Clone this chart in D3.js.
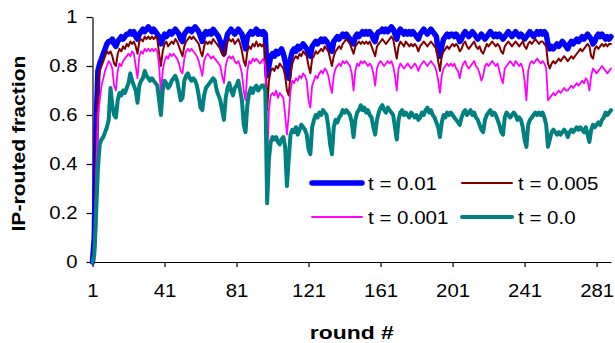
<!DOCTYPE html>
<meta charset="utf-8">

<!-- Load d3.js -->
<script src="https://d3js.org/d3.v7.min.js"></script>

<style>
  body { margin: 0; background: #fff; }
  text { font-family: Arial, "Liberation Sans", sans-serif; }
</style>

<!-- Create a div where the graph will take place -->
<div id="my_dataviz"></div>

<script>

// series values, one per round (round 1 .. 289)
var t001 = [
  0.00, 0.10, 0.55, 0.78, 0.81, 0.83, 0.85, 0.87, 0.89, 0.90,
  0.90, 0.91, 0.89, 0.88, 0.90, 0.91, 0.92, 0.91, 0.92, 0.93,
  0.93, 0.94, 0.93, 0.94, 0.92, 0.91, 0.93, 0.94, 0.95, 0.94,
  0.95, 0.96, 0.95, 0.94, 0.95, 0.94, 0.93, 0.92, 0.89, 0.91,
  0.93, 0.92, 0.93, 0.94, 0.93, 0.94, 0.95, 0.94, 0.93, 0.91,
  0.90, 0.93, 0.94, 0.95, 0.95, 0.94, 0.95, 0.96, 0.95, 0.94,
  0.92, 0.90, 0.93, 0.94, 0.93, 0.94, 0.93, 0.95, 0.94, 0.93,
  0.92, 0.90, 0.87, 0.85, 0.90, 0.93, 0.94, 0.95, 0.94, 0.93,
  0.94, 0.95, 0.94, 0.93, 0.90, 0.87, 0.92, 0.93, 0.94, 0.93,
  0.94, 0.95, 0.93, 0.94, 0.93, 0.94, 0.93, 0.76, 0.80, 0.84,
  0.85, 0.84, 0.86, 0.85, 0.86, 0.87, 0.85, 0.82, 0.78, 0.75,
  0.83, 0.86, 0.87, 0.86, 0.88, 0.87, 0.88, 0.89, 0.88, 0.87,
  0.85, 0.84, 0.88, 0.89, 0.90, 0.89, 0.90, 0.91, 0.90, 0.91,
  0.90, 0.89, 0.87, 0.86, 0.90, 0.91, 0.92, 0.91, 0.92, 0.93,
  0.92, 0.93, 0.92, 0.91, 0.90, 0.89, 0.92, 0.93, 0.92, 0.93,
  0.94, 0.93, 0.94, 0.93, 0.94, 0.93, 0.91, 0.90, 0.93, 0.94,
  0.94, 0.95, 0.94, 0.95, 0.94, 0.95, 0.96, 0.95, 0.93, 0.91,
  0.94, 0.95, 0.94, 0.93, 0.94, 0.93, 0.94, 0.93, 0.94, 0.93,
  0.92, 0.91, 0.93, 0.94, 0.95, 0.94, 0.93, 0.94, 0.95, 0.94,
  0.93, 0.92, 0.86, 0.84, 0.88, 0.91, 0.92, 0.93, 0.92, 0.93,
  0.93, 0.92, 0.93, 0.92, 0.90, 0.91, 0.93, 0.94, 0.93, 0.92,
  0.93, 0.94, 0.93, 0.92, 0.91, 0.92, 0.93, 0.92, 0.91, 0.92,
  0.93, 0.94, 0.93, 0.92, 0.93, 0.92, 0.93, 0.92, 0.91, 0.92,
  0.93, 0.94, 0.93, 0.92, 0.93, 0.94, 0.93, 0.92, 0.93, 0.92,
  0.91, 0.92, 0.93, 0.94, 0.93, 0.92, 0.93, 0.94, 0.93, 0.94,
  0.93, 0.94, 0.93, 0.89, 0.87, 0.88, 0.87, 0.88, 0.89, 0.88,
  0.89, 0.90, 0.89, 0.88, 0.87, 0.89, 0.90, 0.89, 0.90, 0.91,
  0.90, 0.91, 0.92, 0.91, 0.92, 0.93, 0.92, 0.91, 0.89, 0.90,
  0.92, 0.93, 0.92, 0.93, 0.92, 0.91, 0.92, 0.91, 0.92
];

var t0005 = [
  0.00, 0.08, 0.45, 0.72, 0.78, 0.80, 0.82, 0.84, 0.86, 0.85,
  0.86, 0.84, 0.81, 0.80, 0.85, 0.87, 0.86, 0.88, 0.87, 0.89,
  0.88, 0.90, 0.89, 0.90, 0.88, 0.85, 0.90, 0.91, 0.90, 0.92,
  0.91, 0.92, 0.91, 0.92, 0.91, 0.92, 0.91, 0.85, 0.80, 0.86,
  0.89, 0.90, 0.88, 0.89, 0.90, 0.89, 0.91, 0.90, 0.88, 0.86,
  0.84, 0.88, 0.90, 0.91, 0.92, 0.91, 0.92, 0.91, 0.90, 0.89,
  0.86, 0.84, 0.88, 0.90, 0.89, 0.90, 0.89, 0.91, 0.90, 0.89,
  0.88, 0.87, 0.85, 0.84, 0.88, 0.90, 0.91, 0.90, 0.91, 0.89,
  0.90, 0.91, 0.89, 0.86, 0.82, 0.80, 0.86, 0.88, 0.87, 0.89,
  0.88, 0.90, 0.88, 0.89, 0.88, 0.89, 0.86, 0.62, 0.74, 0.78,
  0.79, 0.78, 0.80, 0.79, 0.81, 0.80, 0.79, 0.76, 0.70, 0.68,
  0.77, 0.81, 0.83, 0.84, 0.83, 0.85, 0.84, 0.86, 0.85, 0.84,
  0.80, 0.77, 0.83, 0.84, 0.86, 0.85, 0.86, 0.87, 0.86, 0.88,
  0.87, 0.86, 0.83, 0.80, 0.84, 0.86, 0.87, 0.88, 0.87, 0.89,
  0.90, 0.91, 0.90, 0.89, 0.87, 0.85, 0.88, 0.89, 0.90, 0.89,
  0.90, 0.89, 0.90, 0.89, 0.90, 0.88, 0.86, 0.84, 0.88, 0.89,
  0.90, 0.91, 0.90, 0.89, 0.90, 0.91, 0.92, 0.91, 0.87, 0.83,
  0.88, 0.90, 0.89, 0.88, 0.90, 0.89, 0.88, 0.89, 0.88, 0.89,
  0.88, 0.86, 0.88, 0.89, 0.90, 0.89, 0.88, 0.89, 0.90, 0.89,
  0.88, 0.87, 0.82, 0.78, 0.84, 0.86, 0.87, 0.88, 0.87, 0.88,
  0.89, 0.88, 0.89, 0.88, 0.86, 0.87, 0.89, 0.90, 0.88, 0.87,
  0.88, 0.89, 0.90, 0.88, 0.87, 0.88, 0.86, 0.85, 0.87, 0.89,
  0.88, 0.89, 0.90, 0.89, 0.88, 0.89, 0.88, 0.86, 0.85, 0.88,
  0.89, 0.90, 0.89, 0.88, 0.89, 0.90, 0.89, 0.88, 0.89, 0.90,
  0.88, 0.87, 0.89, 0.90, 0.89, 0.90, 0.91, 0.90, 0.89, 0.90,
  0.90, 0.89, 0.88, 0.81, 0.79, 0.81, 0.82, 0.81, 0.82, 0.83,
  0.82, 0.83, 0.84, 0.83, 0.82, 0.83, 0.84, 0.83, 0.84, 0.85,
  0.86, 0.87, 0.86, 0.87, 0.88, 0.89, 0.88, 0.84, 0.83, 0.87,
  0.88, 0.87, 0.88, 0.89, 0.88, 0.89, 0.88, 0.89, 0.89
];

var t0001 = [
  0.00, 0.05, 0.35, 0.60, 0.66, 0.72, 0.75, 0.78, 0.80, 0.82,
  0.81, 0.79, 0.72, 0.70, 0.78, 0.81, 0.80, 0.82, 0.83, 0.84,
  0.85, 0.84, 0.86, 0.85, 0.80, 0.75, 0.84, 0.86, 0.85, 0.87,
  0.86, 0.87, 0.86, 0.87, 0.86, 0.87, 0.86, 0.80, 0.69, 0.78,
  0.82, 0.84, 0.83, 0.85, 0.84, 0.85, 0.84, 0.83, 0.81, 0.78,
  0.77, 0.83, 0.86, 0.87, 0.86, 0.87, 0.86, 0.85, 0.84, 0.82,
  0.79, 0.76, 0.82, 0.84, 0.85, 0.84, 0.83, 0.84, 0.83, 0.82,
  0.81, 0.80, 0.76, 0.73, 0.80, 0.83, 0.84, 0.83, 0.84, 0.82,
  0.81, 0.82, 0.80, 0.77, 0.70, 0.66, 0.78, 0.82, 0.81, 0.83,
  0.82, 0.83, 0.82, 0.81, 0.82, 0.83, 0.80, 0.40, 0.62, 0.68,
  0.69, 0.68, 0.70, 0.67, 0.69, 0.68, 0.67, 0.60, 0.52, 0.60,
  0.70, 0.74, 0.73, 0.75, 0.74, 0.76, 0.75, 0.77, 0.76, 0.74,
  0.66, 0.63, 0.72, 0.74, 0.76, 0.75, 0.77, 0.78, 0.77, 0.79,
  0.78, 0.76, 0.72, 0.69, 0.76, 0.79, 0.80, 0.81, 0.80, 0.82,
  0.81, 0.82, 0.81, 0.80, 0.77, 0.70, 0.78, 0.81, 0.80, 0.82,
  0.81, 0.82, 0.81, 0.80, 0.81, 0.80, 0.77, 0.72, 0.79, 0.81,
  0.82, 0.81, 0.80, 0.81, 0.82, 0.81, 0.82, 0.80, 0.76, 0.70,
  0.79, 0.81, 0.80, 0.79, 0.80, 0.81, 0.80, 0.79, 0.80, 0.81,
  0.80, 0.78, 0.80, 0.81, 0.82, 0.81, 0.80, 0.81, 0.82, 0.81,
  0.80, 0.78, 0.74, 0.69, 0.76, 0.79, 0.80, 0.81, 0.80, 0.81,
  0.80, 0.81, 0.79, 0.78, 0.75, 0.79, 0.81, 0.82, 0.80, 0.79,
  0.80, 0.81, 0.82, 0.80, 0.79, 0.77, 0.74, 0.76, 0.80, 0.81,
  0.80, 0.81, 0.82, 0.81, 0.80, 0.81, 0.78, 0.75, 0.73, 0.79,
  0.80, 0.81, 0.82, 0.81, 0.80, 0.82, 0.81, 0.80, 0.81, 0.79,
  0.74, 0.66, 0.78, 0.81, 0.82, 0.81, 0.82, 0.83, 0.82, 0.81,
  0.82, 0.81, 0.79, 0.66, 0.67, 0.68, 0.69, 0.68, 0.69, 0.70,
  0.69, 0.70, 0.71, 0.70, 0.70, 0.71, 0.72, 0.71, 0.72, 0.73,
  0.72, 0.73, 0.74, 0.73, 0.75, 0.74, 0.70, 0.76, 0.79, 0.78,
  0.77, 0.78, 0.79, 0.80, 0.79, 0.78, 0.77, 0.78, 0.79
];

var t00 = [
  0.00, 0.03, 0.20, 0.38, 0.48, 0.50, 0.51, 0.53, 0.55, 0.58,
  0.71, 0.64, 0.60, 0.59, 0.66, 0.69, 0.68, 0.70, 0.69, 0.71,
  0.73, 0.77, 0.74, 0.72, 0.70, 0.65, 0.72, 0.74, 0.75, 0.78,
  0.76, 0.75, 0.74, 0.75, 0.74, 0.73, 0.72, 0.66, 0.60, 0.70,
  0.74, 0.73, 0.71, 0.72, 0.74, 0.75, 0.76, 0.74, 0.70, 0.66,
  0.67, 0.74, 0.76, 0.77, 0.75, 0.74, 0.75, 0.74, 0.72, 0.68,
  0.63, 0.62, 0.68, 0.71, 0.72, 0.73, 0.74, 0.75, 0.74, 0.70,
  0.68, 0.66, 0.62, 0.58, 0.67, 0.71, 0.73, 0.70, 0.68, 0.71,
  0.72, 0.74, 0.70, 0.66, 0.56, 0.53, 0.64, 0.69, 0.71, 0.69,
  0.71, 0.72, 0.70, 0.71, 0.72, 0.72, 0.70, 0.24, 0.42, 0.49,
  0.51, 0.50, 0.51, 0.49, 0.48, 0.50, 0.51, 0.47, 0.31, 0.42,
  0.52, 0.54, 0.53, 0.55, 0.52, 0.54, 0.56, 0.55, 0.54, 0.52,
  0.46, 0.44, 0.55, 0.58, 0.60, 0.59, 0.61, 0.60, 0.62, 0.61,
  0.60, 0.55, 0.48, 0.44, 0.55, 0.58, 0.57, 0.59, 0.60, 0.62,
  0.61, 0.62, 0.61, 0.60, 0.57, 0.51, 0.58, 0.61, 0.62, 0.64,
  0.62, 0.63, 0.61, 0.62, 0.60, 0.59, 0.55, 0.52, 0.58, 0.61,
  0.63, 0.64, 0.62, 0.61, 0.63, 0.62, 0.61, 0.60, 0.55, 0.50,
  0.58, 0.61, 0.62, 0.60, 0.61, 0.60, 0.59, 0.61, 0.60, 0.59,
  0.60, 0.58, 0.59, 0.61, 0.60, 0.62, 0.63, 0.61, 0.62, 0.60,
  0.59, 0.57, 0.55, 0.51, 0.57, 0.60, 0.59, 0.61, 0.60, 0.61,
  0.60, 0.59, 0.58, 0.57, 0.56, 0.59, 0.61, 0.62, 0.60, 0.61,
  0.62, 0.60, 0.61, 0.59, 0.58, 0.56, 0.54, 0.53, 0.58, 0.60,
  0.61, 0.62, 0.60, 0.61, 0.60, 0.58, 0.56, 0.53, 0.52, 0.59,
  0.61, 0.60, 0.59, 0.60, 0.61, 0.60, 0.58, 0.59, 0.58, 0.55,
  0.50, 0.47, 0.56, 0.58, 0.59, 0.60, 0.61, 0.60, 0.61, 0.60,
  0.61, 0.59, 0.56, 0.47, 0.50, 0.53, 0.54, 0.53, 0.52, 0.53,
  0.52, 0.53, 0.54, 0.53, 0.51, 0.53, 0.54, 0.53, 0.54, 0.55,
  0.54, 0.55, 0.54, 0.53, 0.55, 0.52, 0.49, 0.54, 0.56, 0.55,
  0.56, 0.57, 0.56, 0.58, 0.59, 0.61, 0.60, 0.61, 0.62
];

var seriesNames = ["t = 0.01", "t = 0.005", "t = 0.001", "t = 0.0"];
var xTicks = [1, 41, 81, 121, 161, 201, 241, 281];
var yTicks = [0, 0.2, 0.4, 0.6, 0.8, 1];

// build a table the lines can use
var allSeries = [t001, t0005, t0001, t00];
var series = seriesNames.map(function(name, i) {
  return { name: name, values: allSeries[i].map(function(v, j) { return { round: j + 1, value: v }; }) };
});

// the original text is a little wider than Arial at the same height
function stretch(sel, factor) {
  sel.each(function() {
    var w = this.getComputedTextLength();
    d3.select(this).attr("textLength", w * factor).attr("lengthAdjust", "spacingAndGlyphs");
  });
}

// set the dimensions and margins of the graph
var margin = {top: 17, right: 4, bottom: 81, left: 92.5},
    width = 615 - margin.left - margin.right,
    height = 343 - margin.top - margin.bottom;

// append the svg object to the body of the page
var svg = d3.select("#my_dataviz")
  .append("svg")
    .attr("width", 615)
    .attr("height", 343)
  .append("g")
    .attr("transform", "translate(" + margin.left + "," + margin.top + ")");

// scales
var x = d3.scaleLinear()
  .domain([1, t001.length])
  .range([0, width]);

var y = d3.scaleLinear()
  .domain([0, 1])
  .range([height, 0]);

// X axis
var xAxis = svg.append("g")
  .attr("transform", "translate(0," + height + ")")
  .call(d3.axisBottom(x).tickValues(xTicks).tickFormat(d3.format("d"))
    .tickSize(5).tickSizeOuter(0).tickPadding(17));

// Y axis
var yAxis = svg.append("g")
  .call(d3.axisLeft(y).tickValues(yTicks).tickFormat(function(d) { return d === 0 || d === 1 ? d : d.toFixed(1); })
    .tickSize(6).tickSizeOuter(0).tickPadding(9));

[xAxis, yAxis].forEach(function(a) {
  a.selectAll("path, line").attr("stroke", "#000").attr("stroke-width", 1.2);
  a.selectAll("text").style("font-size", "18.5px").attr("fill", "#000").call(stretch, 1.1);
});

// axis titles
svg.append("text")
  .attr("x", width / 2)
  .attr("y", height + 77)
  .attr("text-anchor", "middle")
  .attr("textLength", 84)
  .attr("lengthAdjust", "spacingAndGlyphs")
  .style("font-size", "19px")
  .style("font-weight", "bold")
  .text("round #");

svg.append("text")
  .attr("transform", "translate(" + (-68) + "," + (height / 2 + 4) + ") rotate(-90)")
  .attr("text-anchor", "middle")
  .attr("textLength", 176)
  .attr("lengthAdjust", "spacingAndGlyphs")
  .style("font-size", "19px")
  .style("font-weight", "bold")
  .text("IP-routed fraction");

// line styles per series
var color = d3.scaleOrdinal()
  .domain(seriesNames)
  .range(["#0000ff", "#800000", "#ff00ff", "#008080"]);
var lineWidth = d3.scaleOrdinal()
  .domain(seriesNames)
  .range([5.5, 2, 1.8, 4]);

var line = d3.line()
  .x(function(d) { return x(d.round); })
  .y(function(d) { return y(d.value); });

svg.selectAll(".series")
  .data(series)
  .enter()
  .append("path")
    .attr("class", "series")
    .attr("d", function(d) { return line(d.values); })
    .attr("fill", "none")
    .attr("stroke", function(d) { return color(d.name); })
    .attr("stroke-width", function(d) { return lineWidth(d.name); })
    .attr("stroke-linejoin", "round")
    .attr("stroke-linecap", "round");

// legend, two columns by two rows
var legend = svg.selectAll(".legend")
  .data(series)
  .enter()
  .append("g")
    .attr("class", "legend")
    .attr("transform", function(d, i) {
      return "translate(" + (219.5 + (i % 2) * 150) + "," + (166 + Math.floor(i / 2) * 34) + ")";
    });

legend.append("line")
  .attr("x1", 0)
  .attr("x2", 50)
  .attr("stroke", function(d) { return color(d.name); })
  .attr("stroke-width", function(d) { return lineWidth(d.name); })
  .attr("stroke-linecap", "round");

legend.append("text")
  .attr("x", 56)
  .attr("dy", "0.35em")
  .style("font-size", "19px")
  .text(function(d) { return d.name; })
  .call(stretch, 1.08);

</script>
